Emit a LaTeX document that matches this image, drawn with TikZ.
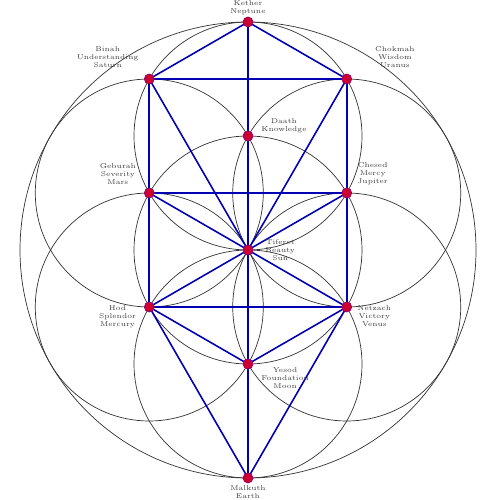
\documentclass[tikz,border=0pt]{standalone}
\usepackage{tikz}
\usetikzlibrary{positioning}

\begin{document}
\begin{tikzpicture}[x=1cm, y=1cm]
        \tikzstyle{sephira}=[circle, draw=red!60!blue, fill=red!80!blue, inner sep=0pt, minimum size=0.2cm]
        \tikzstyle{path}=[draw=blue!70!black, line width=0.9pt]
        \tikzstyle{ring}=[draw=black!80, line width=0.4pt]
        \tikzstyle{tag}=[align=center, font=\fontsize{4}{4.6}\selectfont, text=black!75, inner sep=1pt]
        \def\R{2.28}
        \useasboundingbox (-4.96,-5.0) rectangle (5.04,5.0);

        % seed of life
        \draw[ring] (0,0) circle (2*\R);
        \draw[ring] (0,0) circle (\R);
        \foreach \a in {30,90,...,330}
            \draw[ring] (\a:\R) circle (\R);

        % sephiroth
        \coordinate (kether) at (0,2*\R);
        \coordinate (binah) at (-0.866*\R,1.5*\R);
        \coordinate (chokmah) at (0.866*\R,1.5*\R);
        \coordinate (daath) at (0,\R);
        \coordinate (geburah) at (-0.866*\R,0.5*\R);
        \coordinate (chesed) at (0.866*\R,0.5*\R);
        \coordinate (tiferet) at (0,0);
        \coordinate (hod) at (-0.866*\R,-0.5*\R);
        \coordinate (netzach) at (0.866*\R,-0.5*\R);
        \coordinate (yesod) at (0,-\R);
        \coordinate (malkuth) at (0,-2*\R);

        % paths
        \draw[path] (kether) -- (binah) -- (chokmah) -- (kether);
        \draw[path] (kether) -- (malkuth);
        \draw[path] (binah) -- (hod);
        \draw[path] (chokmah) -- (netzach);
        \draw[path] (binah) -- (tiferet) -- (chokmah);
        \draw[path] (geburah) -- (chesed);
        \draw[path] (geburah) -- (tiferet) -- (chesed);
        \draw[path] (hod) -- (netzach);
        \draw[path] (hod) -- (tiferet) -- (netzach);
        \draw[path] (hod) -- (yesod) -- (netzach);
        \draw[path] (hod) -- (malkuth) -- (netzach);

        \foreach \s in {kether,binah,chokmah,daath,geburah,chesed,tiferet,hod,netzach,yesod,malkuth}
            \node[sephira] (\s n) at (\s) {};

        % labels
        \node[tag, above=0pt of kethern] (ketherl) {Kether\\Neptune};
        \node[tag, above left=0.1cm and 0.1cm of binahn] (binahl) {Binah\\Understanding\\Saturn};
        \node[tag, above right=0.1cm and 0.45cm of chokmahn] (chokmahl) {Chokmah\\Wisdom\\Uranus};
        \node[tag, above right=-0.05cm and 0.15cm of daathn] (daathl) {Daath\\Knowledge};
        \node[tag, above left=0.05cm and 0.15cm of geburahn] (geburahl) {Geburah\\Severity\\Mars};
        \node[tag, above right=0.05cm and 0.1cm of chesedn] (chesedl) {Chesed\\Mercy\\Jupiter};
        \node[tag, right=0.2cm of tiferetn] (tiferetl) {Tiferet\\Beauty\\Sun};
        \node[tag, below left=-0.15cm and 0.15cm of hodn] (hodl) {Hod\\Splendor\\Mercury};
        \node[tag, below right=-0.15cm and 0.1cm of netzachn] (netzachl) {Netzach\\Victory\\Venus};
        \node[tag, below right=-0.05cm and 0.15cm of yesodn] (yesodl) {Yesod\\Foundation\\Moon};
        \node[tag, below=0pt of malkuthn] (malkuthl) {Malkuth\\Earth};
    \end{tikzpicture}
\end{document}
